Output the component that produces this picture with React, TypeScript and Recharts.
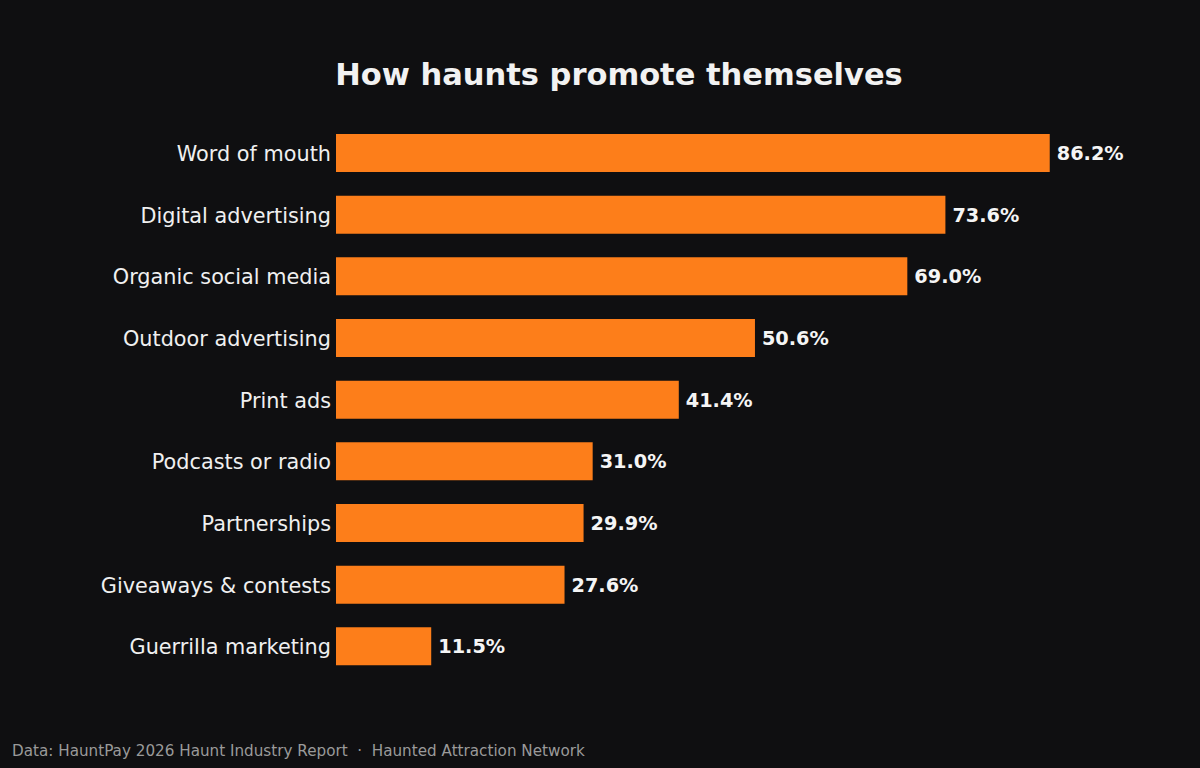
import React from "react";
import { BarChart, Bar, XAxis, YAxis, LabelList } from "recharts";

const categories = [
  "Word of mouth",
  "Digital advertising",
  "Organic social media",
  "Outdoor advertising",
  "Print ads",
  "Podcasts or radio",
  "Partnerships",
  "Giveaways & contests",
  "Guerrilla marketing",
];
const shares = [86.2, 73.6, 69.0, 50.6, 41.4, 31.0, 29.9, 27.6, 11.5];

const data = categories.map((name, i) => ({ name, value: shares[i] }));

const BG = "#0f0f11";
const ORANGE = "#fd7e1a";
const FONT = "'DejaVu Sans', sans-serif";

const CategoryTick = (props: any) => {
  const { x, y, payload } = props;
  return (
    <text x={x} y={y} dy={8} textAnchor="end" fill="#f0f0f0" fontSize={20.8} fontFamily={FONT}>
      {payload.value}
    </text>
  );
};

export default function App() {
  return (
    <div style={{ position: "fixed", left: 0, top: 0, width: 1200, height: 768, background: BG }}>
      <BarChart
        width={1200}
        height={768}
        data={data}
        layout="vertical"
        margin={{ top: 122, bottom: 91, left: 6, right: 36 }}
      >
        <XAxis type="number" domain={[0, 100]} hide />
        <YAxis
          type="category"
          dataKey="name"
          width={330}
          axisLine={false}
          tickLine={false}
          tickSize={0}
          tickMargin={5}
          tick={<CategoryTick />}
        />
        <Bar dataKey="value" fill={ORANGE} barSize={38} isAnimationActive={false}>
          <LabelList
            dataKey="value"
            position="right"
            offset={7}
            formatter={(v: number) => `${v.toFixed(1)}%`}
            style={{ fill: "#f5f5f5", fontSize: 19.3, fontWeight: "bold", fontFamily: FONT }}
          />
        </Bar>
      </BarChart>
      <svg width={1200} height={768} style={{ position: "absolute", left: 0, top: 0, pointerEvents: "none" }}>
        <text x={619} y={85} textAnchor="middle" fill="#f2f2f2" fontSize={30.5} fontWeight="bold" fontFamily={FONT}>
          How haunts promote themselves
        </text>
        <text x={12} y={756} fill="#9a9a9a" fontSize={15.2} fontFamily={FONT} style={{ whiteSpace: "pre" }}>
          {"Data: HauntPay 2026 Haunt Industry Report  ·  Haunted Attraction Network"}
        </text>
      </svg>
    </div>
  );
}
